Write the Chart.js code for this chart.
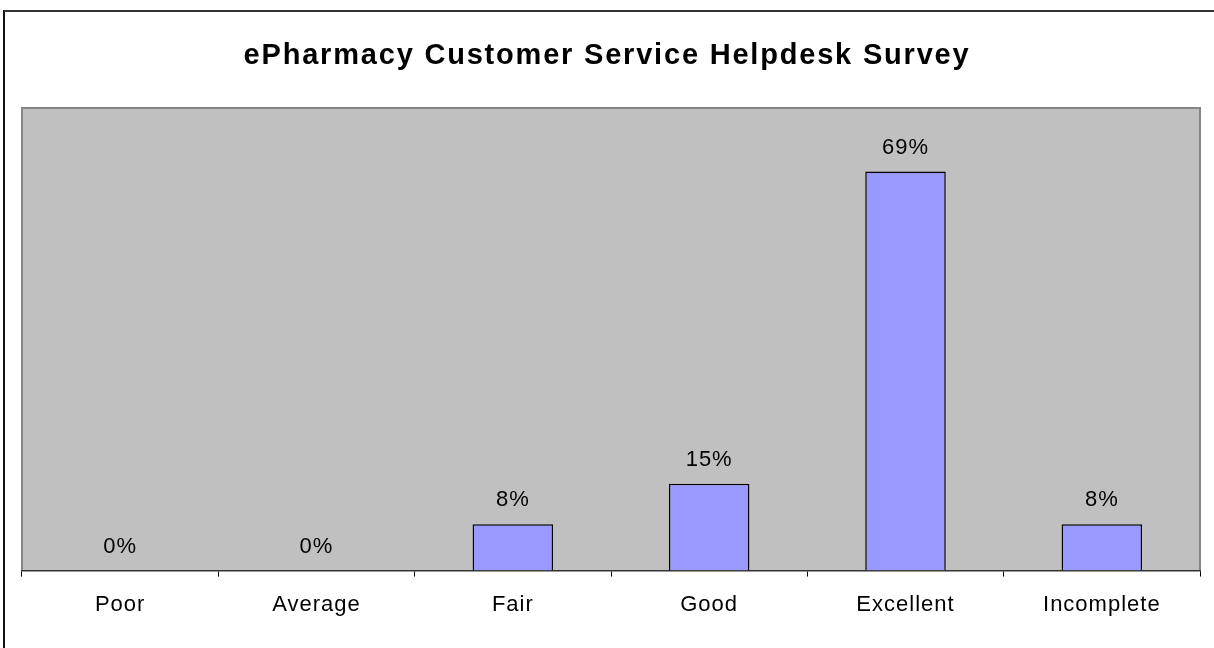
<!DOCTYPE html>
<html>
<head>
<meta charset="utf-8">
<title>ePharmacy Customer Service Helpdesk Survey</title>
<script src="https://cdn.jsdelivr.net/npm/chart.js@4/dist/chart.umd.min.js"></script>
<style>
  html, body { margin: 0; padding: 0; background: #fff; overflow: hidden; }
  #frame {
    position: absolute; left: 3px; top: 10px;
    width: 1300px; height: 700px;
    border-left: 2px solid #111; border-top: 2px solid #333;
  }
  #chart { position: absolute; left: 0; top: 0; }
</style>
</head>
<body>
<div id="frame"></div>
<canvas id="chart" width="1214" height="648"></canvas>
<script>
// survey answers, percent of responses
var ratings = ['Poor', 'Average', 'Fair', 'Good', 'Excellent', 'Incomplete'];
var percents = [0, 0, 8, 15, 69, 8];
var chartTitle = 'ePharmacy Customer Service Helpdesk Survey';

var FONT = "'Liberation Sans', Arial, sans-serif";

function spacing(ctx, px) {
  ctx.letterSpacing = px + 'px';
}

// gray plot background with the thin gray edge
var plotArea = {
  id: 'plotArea',
  beforeUpdate: function(chart) { spacing(chart.ctx, 1); },
  beforeDraw: function(chart) {
    var a = chart.chartArea, ctx = chart.ctx;
    spacing(ctx, 1);
    ctx.save();
    ctx.fillStyle = '#c0c0c0';
    ctx.fillRect(a.left, a.top, a.right - a.left, a.bottom - a.top);
    ctx.strokeStyle = '#858585';
    ctx.lineWidth = 2;
    ctx.beginPath();
    ctx.moveTo(a.left, a.bottom);
    ctx.lineTo(a.left, a.top);
    ctx.lineTo(a.right, a.top);
    ctx.lineTo(a.right, a.bottom);
    ctx.stroke();
    ctx.restore();
  }
};

// percent text above each bar
var valueLabels = {
  id: 'valueLabels',
  afterDatasetsDraw: function(chart) {
    var ctx = chart.ctx;
    var meta = chart.getDatasetMeta(0);
    ctx.save();
    spacing(ctx, 1);
    ctx.font = '22px ' + FONT;
    ctx.fillStyle = '#000';
    ctx.textAlign = 'center';
    ctx.textBaseline = 'middle';
    meta.data.forEach(function(bar, i) {
      ctx.fillText(percents[i] + '%', bar.x, bar.y - 24);
    });
    ctx.restore();
  }
};

var heading = {
  id: 'heading',
  afterDraw: function(chart) {
    var ctx = chart.ctx;
    ctx.save();
    spacing(ctx, 1.8);
    ctx.font = 'bold 29px ' + FONT;
    ctx.fillStyle = '#000';
    ctx.textAlign = 'center';
    ctx.textBaseline = 'middle';
    ctx.fillText(chartTitle, chart.width / 2, 56);
    ctx.restore();
  }
};

new Chart(document.getElementById('chart'), {
  type: 'bar',
  data: {
    labels: ratings,
    datasets: [{
      data: percents,
      backgroundColor: '#9999ff',
      borderColor: '#000',
      borderWidth: 1.5,
      borderSkipped: 'bottom',
      barPercentage: 0.41,
      categoryPercentage: 1
    }]
  },
  options: {
    responsive: false,
    animation: false,
    events: [],
    layout: { padding: { left: 22, right: 14, top: 108, bottom: 15 } },
    plugins: {
      legend: { display: false },
      title: { display: false },
      tooltip: { enabled: false }
    },
    scales: {
      x: {
        grid: { offset: true, drawOnChartArea: false, tickLength: 6, color: '#000', lineWidth: 1 },
        border: { color: '#333', width: 1.5 },
        ticks: { color: '#000', padding: 15, font: { family: FONT, size: 22 } }
      },
      y: { display: false, min: 0, max: 80 }
    }
  },
  plugins: [plotArea, valueLabels, heading]
});
</script>
</body>
</html>
